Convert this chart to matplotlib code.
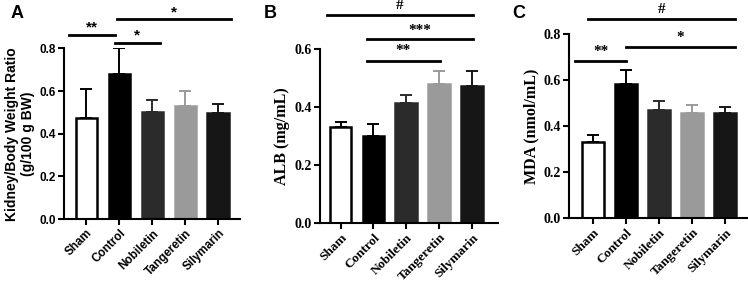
import numpy as np
import matplotlib.pyplot as plt
import matplotlib.transforms as mtransforms

groups = ['Sham', 'Control', 'Nobiletin', 'Tangeretin', 'Silymarin']
colors = ['white', 'black', '#2b2b2b', '#9a9a9a', '#161616']
err_colors = ['black', 'black', '#2b2b2b', '#9a9a9a', '#161616']

# panel A: kidney/body weight ratio
ratio_mean = [0.475, 0.68, 0.50, 0.53, 0.495]
ratio_err = [0.135, 0.12, 0.06, 0.07, 0.045]
# panel B: ALB
alb_mean = [0.332, 0.301, 0.415, 0.478, 0.474]
alb_err = [0.016, 0.042, 0.028, 0.047, 0.051]
# panel C: MDA
mda_mean = [0.33, 0.585, 0.472, 0.455, 0.455]
mda_err = [0.03, 0.057, 0.038, 0.037, 0.03]

# significance bars: (x0, x1, y_line, label, y_text)
sig_a = [(-0.53, 0.86, 0.862, '**', 0.90), (0.86, 2.23, 0.825, '*', 0.86),
         (0.92, 4.38, 0.937, '*', 0.97)]
sig_b = [(-0.41, 4.02, 0.715, '#', 0.748), (0.8, 4.02, 0.633, '***', 0.665),
         (0.8, 3.02, 0.56, '**', 0.595)]
sig_c = [(-0.17, 4.29, 0.865, '#', 0.905), (1.0, 4.29, 0.745, '*', 0.785),
         (-0.54, 1.0, 0.684, '**', 0.724)]

fig = plt.figure(figsize=(7.48, 2.86), dpi=100)

def panel(rect, means, errs, ylim, yticks, ylabel, font, fs, sigs, letter, letter_xy, xlim):
    ax = fig.add_axes(rect)
    x = np.arange(len(groups))
    ax.bar(x, means, width=0.66, color=colors, edgecolor=['black'] + colors[1:],
           linewidth=1.8, zorder=2)
    for i in range(len(groups)):
        ax.errorbar(x[i], means[i], yerr=[[0], [errs[i]]], color=err_colors[i],
                    capsize=4, elinewidth=1.4, capthick=1.4, zorder=1)
    ax.set_xlim(*xlim)
    ax.set_ylim(*ylim)
    ax.set_yticks(yticks)
    ax.set_yticklabels(['%.1f' % t for t in yticks], fontfamily=font,
                       fontweight='bold', fontsize=fs[0])
    ax.set_xticks(x)
    ax.set_xticklabels(groups, rotation=45, ha='right', rotation_mode='anchor',
                       fontfamily=font, fontweight='bold', fontsize=fs[1])
    shift = mtransforms.ScaledTranslation(4 / 100, 0, fig.dpi_scale_trans)
    for lab in ax.get_xticklabels():
        lab.set_transform(lab.get_transform() + shift)
    ax.set_ylabel(ylabel, fontfamily=font, fontweight='bold', fontsize=fs[2],
                  labelpad=3)
    for s in ['top', 'right']:
        ax.spines[s].set_visible(False)
    for s in ['left', 'bottom']:
        ax.spines[s].set_linewidth(1.5)
    ax.tick_params(width=1.5, length=4, direction='out', pad=2)
    for x0, x1, yl, lab, yt in sigs:
        ax.plot([x0, x1], [yl, yl], color='black', lw=2, clip_on=False)
        ax.text((x0 + x1) / 2, yt, lab, ha='center', va='center',
                fontweight='bold', fontsize=11, fontfamily=font)
    fig.text(letter_xy[0], letter_xy[1], letter, fontsize=13, fontweight='bold',
             fontfamily='Liberation Sans', va='center', ha='left')
    return ax

panel([0.0856, 0.234, 0.235, 0.597], ratio_mean, ratio_err, (0, 0.8),
      [0.0, 0.2, 0.4, 0.6, 0.8], 'Kidney/Body Weight Ratio\n(g/100 g BW)',
      'Liberation Sans', (8.5, 8.5, 10), sig_a, 'A', (0.014, 0.953), (-0.68, 4.65))
panel([0.428, 0.219, 0.238, 0.610], alb_mean, alb_err, (0, 0.6),
      [0.0, 0.2, 0.4, 0.6], 'ALB (mg/mL)',
      'Liberation Serif', (10, 9.5, 11.5), sig_b, 'B', (0.353, 0.953), (-0.62, 4.79))
panel([0.761, 0.237, 0.239, 0.644], mda_mean, mda_err, (0, 0.8),
      [0.0, 0.2, 0.4, 0.6, 0.8], 'MDA (nmol/mL)',
      'Liberation Serif', (10, 9.5, 11.5), sig_c, 'C', (0.685, 0.953), (-0.73, 4.69))

fig.savefig('out.png', dpi=100)
